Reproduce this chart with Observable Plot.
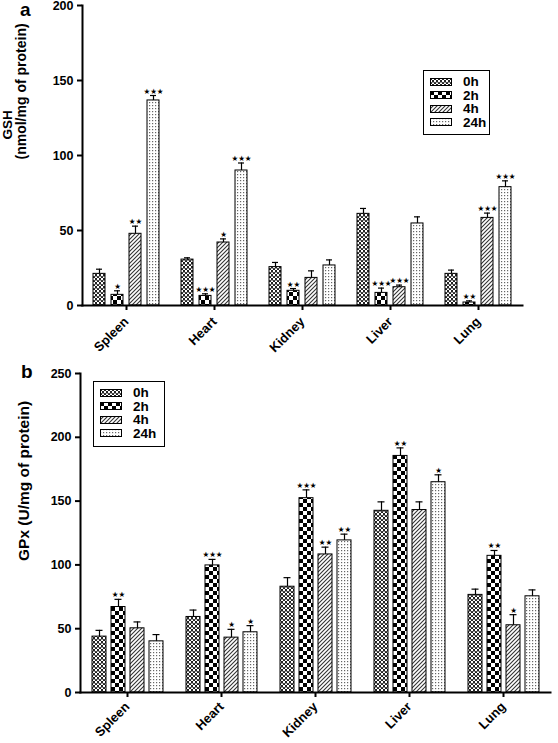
<!DOCTYPE html>
<html><head><meta charset="utf-8">
<script src="https://cdn.jsdelivr.net/npm/d3@7"></script>
<script src="https://cdn.jsdelivr.net/npm/@observablehq/plot@0.6"></script>
<style>
body{margin:0;background:#fff;font-family:"Liberation Sans",Arial,sans-serif;}
#wrap{position:relative;width:558px;height:743px;overflow:hidden;}
.panel{position:absolute;left:0;}
.tag{position:absolute;font-weight:bold;font-size:19px;line-height:1;}
.legend{position:absolute;border:1.5px solid #000;background:#fff;box-sizing:border-box;padding:4px 0 0 6px;}
.legend .row{display:flex;align-items:center;height:13.5px;font-weight:bold;font-size:13.5px;}
.legend svg{margin-right:11px;}
</style></head><body>
<svg width="0" height="0" style="position:absolute">
  <defs>
    <pattern id="p0" width="4" height="4" patternUnits="userSpaceOnUse">
      <rect width="4" height="4" fill="#fff"/>
      <rect x="0" y="0" width="2" height="2" fill="#222"/>
      <rect x="2" y="2" width="2" height="2" fill="#222"/>
      <rect x="0" y="0" width="4" height="0.6" fill="#555"/>
    </pattern>
    <pattern id="p1" width="8" height="8" patternUnits="userSpaceOnUse">
      <rect width="8" height="8" fill="#fff"/>
      <rect x="0" y="0" width="4" height="4" fill="#000"/>
      <rect x="4" y="4" width="4" height="4" fill="#000"/>
    </pattern>
    <pattern id="p2" width="4" height="4" patternUnits="userSpaceOnUse">
      <rect width="4" height="4" fill="#fff"/>
      <path d="M0,4 L4,0 M-1,1 L1,-1 M3,5 L5,3" stroke="#333" stroke-width="1.1"/>
    </pattern>
    <pattern id="p3" width="3" height="3" patternUnits="userSpaceOnUse">
      <rect width="3" height="3" fill="#fff"/>
      <rect x="0" y="0" width="1.2" height="1.2" fill="#666"/>
    </pattern>
  </defs>
</svg>
<div id="wrap"></div>
<script>
// ---------- data ----------
const organs = ["Spleen", "Heart", "Kidney", "Liver", "Lung"];
const times = ["0h", "2h", "4h", "24h"];

// Panel a: GSH (nmol/mg of protein)
const gsh0h = [21.1, 30.6, 25.6, 61.1, 21.1];
const gsh2h = [7.1, 6.4, 9.8, 8.4, 2.0];
const gsh4h = [47.8, 42.0, 18.4, 12.2, 58.4];
const gsh24h = [136.7, 90.0, 26.7, 54.7, 78.9];
const gshErr0h = [3.1, 1.2, 3.1, 3.6, 2.5];
const gshErr2h = [2.7, 1.4, 1.5, 3.2, 1.1];
const gshErr4h = [5.1, 2.4, 4.7, 1.4, 3.2];
const gshErr24h = [3.3, 5.0, 3.7, 4.4, 4.2];
const gshSig0h = ["", "", "", "", ""];
const gshSig2h = ["*", "***", "**", "***", "**"];
const gshSig4h = ["**", "*", "", "***", "***"];
const gshSig24h = ["***", "***", "", "", "***"];

// Panel b: GPx (U/mg of protein)
const gpx0h = [43.8, 59.2, 82.9, 142.4, 76.5];
const gpx2h = [67.0, 99.6, 152.3, 185.4, 107.1];
const gpx4h = [50.3, 43.0, 108.2, 143.0, 52.7];
const gpx24h = [40.1, 47.2, 119.2, 164.8, 75.4];
const gpxErr0h = [4.9, 5.4, 7.1, 7.0, 4.5];
const gpxErr2h = [6.0, 4.7, 6.5, 6.3, 4.2];
const gpxErr4h = [5.0, 6.5, 5.7, 6.4, 8.3];
const gpxErr24h = [5.3, 5.2, 4.9, 5.8, 5.0];
const gpxSig0h = ["", "", "", "", ""];
const gpxSig2h = ["**", "***", "***", "**", "**"];
const gpxSig4h = ["", "*", "**", "", "*"];
const gpxSig24h = ["", "*", "**", "*", ""];

const gshTicks = [0, 50, 100, 150, 200];
const gpxTicks = [0, 50, 100, 150, 200, 250];
const patterns = ["url(#p0)", "url(#p1)", "url(#p2)", "url(#p3)"];

function rows(means, errs, sigs) {
  const out = [];
  organs.forEach((o, i) => times.forEach((t, j) => {
    out.push({organ: o, time: t, value: means[j][i], err: errs[j][i], sig: sigs[j][i]});
  }));
  return out;
}
const gshData = rows([gsh0h, gsh2h, gsh4h, gsh24h], [gshErr0h, gshErr2h, gshErr4h, gshErr24h], [gshSig0h, gshSig2h, gshSig4h, gshSig24h]);
const gpxData = rows([gpx0h, gpx2h, gpx4h, gpx24h], [gpxErr0h, gpxErr2h, gpxErr4h, gpxErr24h], [gpxSig0h, gpxSig2h, gpxSig4h, gpxSig24h]);

const FONT = "Liberation Sans, Arial, sans-serif";

function panel(o) {
  const top = d => d.value + d.err;
  const frameH = o.height - o.mt - o.mb;
  const perPx = o.yMax / frameH;                 // data units per pixel
  const labelY = -o.labPx * perPx;               // category labels sit below the axis
  const starGap = 2 * perPx;                     // small gap above the error cap
  return Plot.plot({
    width: 558, height: o.height,
    marginTop: o.mt, marginBottom: o.mb, marginLeft: o.ml, marginRight: o.mr,
    style: {fontFamily: FONT, fontWeight: "bold", fontSize: "12px", background: "transparent", overflow: "visible", color: "#000"},
    fx: {domain: organs, paddingInner: 0, paddingOuter: o.fxPad, label: null, axis: null},
    x: {domain: times, paddingInner: o.pI, paddingOuter: o.pO, axis: null},
    y: {domain: [0, o.yMax], label: null, axis: null},
    color: {domain: times, range: patterns},
    marks: [
      Plot.axisY({ticks: o.ticks, tickSize: 5, tickPadding: 4, strokeWidth: 2, label: null, fontSize: 12.5, fontWeight: "bold"}),
      Plot.barY(o.data, {fx: "organ", x: "time", y: "value", fill: "time", stroke: "#000", strokeWidth: 1}),
      Plot.ruleX(o.data, {fx: "organ", x: "time", y1: "value", y2: top, stroke: "#000", strokeWidth: 1.2}),
      Plot.tickY(o.data, {fx: "organ", x: "time", y: top, insetLeft: o.capInset, insetRight: o.capInset, stroke: "#000", strokeWidth: 1.2}),
      Plot.text(o.data, {fx: "organ", x: "time", y: d => top(d) + starGap, text: d => d.sig.replace(/\*/g, "\u2605"), lineAnchor: "bottom", fontSize: 7.5, fontFamily: "DejaVu Sans", fill: "#000"}),
      // category ticks and rotated labels
      Plot.ruleX(organs, {fx: d => d, x: null, y1: 0, y2: 0, insetBottom: -5, stroke: "#000", strokeWidth: 2}),
      Plot.text(organs, {fx: d => d, y: () => labelY, text: d => d, rotate: -45, textAnchor: "end", lineAnchor: "middle", fontSize: 13, fontWeight: "bold", fill: "#000"}),
      Plot.frame({anchor: "left", facet: "super", strokeWidth: 2}),
      Plot.frame({anchor: "bottom", facet: "super", strokeWidth: 2}),
      ...o.labels.map(l => Plot.text([l.text], {text: d => d, frameAnchor: "left", rotate: -90, dx: l.dx, dy: l.dy, fontSize: l.size, fontWeight: "bold", facet: "super", fill: "#000"}))
    ]
  });
}

const wrap = document.getElementById("wrap");

const a = panel({
  data: gshData, yMax: 200, ticks: gshTicks, height: 355, mt: 5, mb: 50, ml: 77, mr: 32,
  fxPad: 0.044, pI: 0.316, pO: 0.48, capInset: 3, labPx: 14,
  labels: [
    {text: "GSH", dx: -75, dy: -16, size: 13.5},
    {text: "(nmol/mg of protein)", dx: -61, dy: 4, size: 14}
  ]
});
a.classList.add("panel"); a.style.top = "0px";
wrap.appendChild(a);

const b = panel({
  data: gpxData, yMax: 250, ticks: gpxTicks, height: 388, mt: 18, mb: 51, ml: 77, mr: 6,
  fxPad: 0.0063, pI: 0.275, pO: 0.506, capInset: 3.5, labPx: 12,
  labels: [
    {text: "GPx (U/mg of protein)", dx: -56, dy: 28, size: 15.5}
  ]
});
b.classList.add("panel"); b.style.top = "355px";
wrap.appendChild(b);

function tag(txt, left, top) {
  const d = document.createElement("div");
  d.className = "tag"; d.textContent = txt;
  d.style.left = left + "px"; d.style.top = top + "px";
  wrap.appendChild(d);
}
tag("a", 20, 0);
tag("b", 21, 362);

function legend(left, top, w, h) {
  const d = document.createElement("div");
  d.className = "legend";
  d.style.left = left + "px"; d.style.top = top + "px";
  d.style.width = w + "px"; d.style.height = h + "px";
  times.forEach((t, j) => {
    const r = document.createElement("div");
    r.className = "row";
    r.innerHTML = `<svg width="22" height="8"><rect x="0.5" y="0.5" width="21" height="7" fill="${patterns[j]}" stroke="#000" stroke-width="1"/></svg><span>${t}</span>`;
    d.appendChild(r);
  });
  wrap.appendChild(d);
}
legend(423, 70, 67, 65);
legend(93, 381, 72, 66);
</script>
</body></html>
